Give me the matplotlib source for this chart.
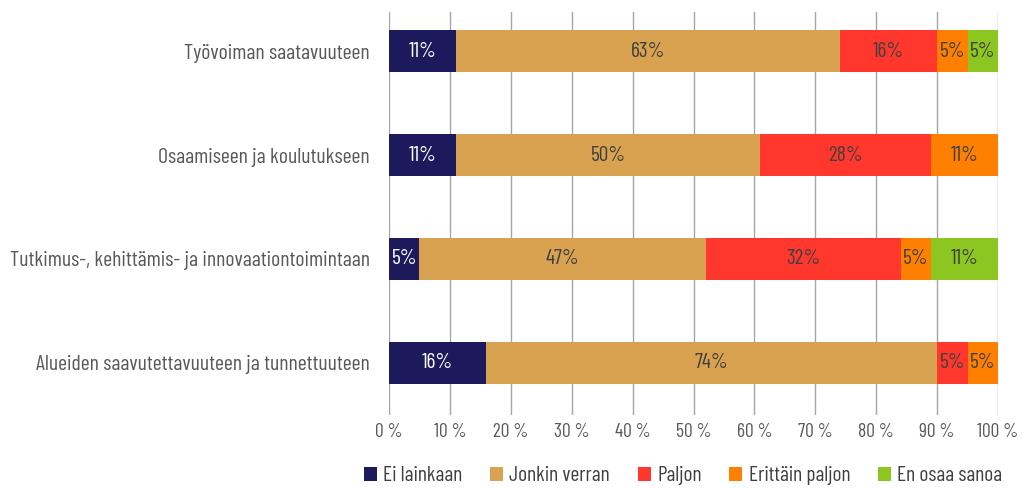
import numpy as np
import matplotlib.pyplot as plt

categories = ["Työvoiman saatavuuteen",
              "Osaamiseen ja koulutukseen",
              "Tutkimus-, kehittämis- ja innovaationtoimintaan",
              "Alueiden saavutettavuuteen ja tunnettuuteen"]
series = ["Ei lainkaan", "Jonkin verran", "Paljon", "Erittäin paljon", "En osaa sanoa"]
ei_lainkaan = [11, 11, 5, 16]
jonkin_verran = [63, 50, 47, 74]
paljon = [16, 28, 32, 5]
erittain_paljon = [5, 11, 5, 5]
en_osaa = [5, 0, 11, 0]

colors = ["#1c1a5c", "#d8a250", "#ff372c", "#ff7f00", "#8cc620"]
text_colors = ["white", "#404040", "#404040", "#404040", "#404040"]

plt.rcParams["font.family"] = ["Barlow Condensed", "DejaVu Sans"]

fig = plt.figure(figsize=(10.24, 4.88), dpi=100)
ax = fig.add_axes([0.3799, 0.1496, 0.5947, 0.8258])

y = np.arange(len(categories))
left = np.zeros(len(categories))
data = [ei_lainkaan, jonkin_verran, paljon, erittain_paljon, en_osaa]
for vals, name, c, tc in zip(data, series, colors, text_colors):
    vals = np.array(vals, dtype=float)
    bars = ax.barh(y, vals, left=left, height=0.4, color=c, label=name, zorder=3)
    for b, v in zip(bars, vals):
        if v > 0:
            ax.text(b.get_x() + b.get_width() / 2, b.get_y() + b.get_height() / 2,
                    f"{int(v)}%", ha="center", va="center", color=tc,
                    fontsize=15.5, zorder=4)
    left += vals

ax.set_xlim(0, 100)
ax.set_ylim(3.5, -0.375)
ax.set_xticks(np.arange(0, 101, 10))
ax.set_xticklabels([f"{t} %" for t in range(0, 101, 10)])
ax.set_yticks(y)
ax.set_yticklabels(categories)
ax.tick_params(axis="both", length=0, labelcolor="#595959")
ax.tick_params(axis="x", pad=6, labelsize=14)
ax.tick_params(axis="y", pad=14, labelsize=15.7)
ax.grid(axis="x", color="#a6a6a6", linewidth=1, zorder=0)
for s in ax.spines.values():
    s.set_visible(False)

fig.legend(loc="center", bbox_to_anchor=(0.667, 0.025), ncol=5, frameon=False,
           fontsize=15.4, handlelength=0.6, handleheight=0.6, handletextpad=0.3,
           columnspacing=1.3, labelcolor="#404040")

fig.savefig("out.png", dpi=100)
